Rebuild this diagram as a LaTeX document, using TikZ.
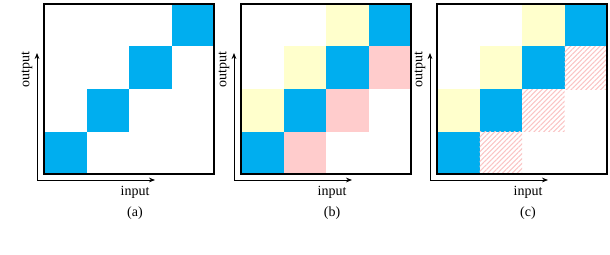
\documentclass[tikz,border=0pt]{standalone}
\usepackage{fontspec}
\setmainfont{Liberation Serif}
\usetikzlibrary{arrows.meta,patterns.meta}
\definecolor{cellblue}{RGB}{0,174,239}
\definecolor{cellyellow}{RGB}{255,255,204}
\definecolor{cellpink}{RGB}{255,204,204}
\definecolor{hatchpink}{RGB}{250,196,196}

\tikzset{
 frame/.style={line width=1.1pt},
 axis/.style={-{Stealth[length=4.5pt,width=3.5pt]},line width=0.6pt},
 diag/.style={fill=cellblue},
 upper/.style={fill=cellyellow},
 lower/.style={fill=cellpink},
 hatched/.style={pattern={Lines[angle=45,distance=2.6pt,line width=0.8pt]},pattern color=hatchpink},
 lbl/.style={font=\fontsize{10.5}{12}\selectfont}
}

\begin{document}
\begin{tikzpicture}[x=0.75pt,y=0.75pt]
 \useasboundingbox (0,0) rectangle (610,254);
 % diagonal blocks
 \foreach \x in {44,241,437}
  \foreach \i in {0,1,2,3}
   \fill[diag] (\x+42.5*\i,80+42.5*\i) rectangle ++(42.5,42.5);
 % blocks above the diagonal
 \foreach \x in {241,437}
  \foreach \i in {0,1,2}
   \fill[upper] (\x+42.5*\i,122.5+42.5*\i) rectangle ++(42.5,42.5);
 % blocks below the diagonal: plain in (b), hatched in (c)
 \foreach \i in {0,1,2} {
  \fill[lower] (283.5+42.5*\i,80+42.5*\i) rectangle ++(42.5,42.5);
  \path[hatched] (479.5+42.5*\i,80+42.5*\i) rectangle ++(42.5,42.5);
 }
 % frames, axes, labels
 \foreach \p/\x in {a/44,b/241,c/437} {
  \draw[frame] (\x,80) rectangle ++(170,170);
  \coordinate (o\p) at (\x-7,74);
  \coordinate (t\p) at (\x-7,201);
  \coordinate (r\p) at (\x+111,74);
  \draw[axis] (o\p) -- (t\p);
  \draw[axis] (o\p) -- (r\p);
  \node[lbl] (in\p) at (\x+91,62) {input};
  \node[lbl,rotate=90] (out\p) at (\x-17,184) {output};
  \node[lbl] (cap\p) at (\x+91,41) {(\p)};
 }
\end{tikzpicture}
\end{document}
